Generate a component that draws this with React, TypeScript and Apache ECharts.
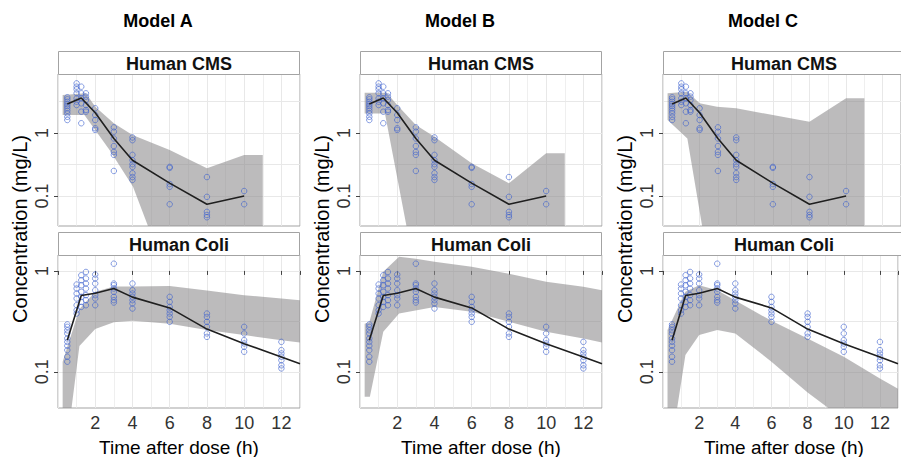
import React, { useEffect, useRef } from 'react';
import * as echarts from 'echarts';

// ---------- data ----------
const modelNames = ['Model A', 'Model B', 'Model C'];
const stripTitles = ['Human CMS', 'Human Coli'];
const xTicks = [2, 4, 6, 8, 10, 12];
const yMajorTicks = [0.1, 1];
const yGridValues = [0.0316, 0.1, 0.316, 1, 3.16];

// observed CMS concentrations (shared by all models)
const cmsTimes = [0.5, 1, 1.25, 1.5, 2, 3, 4, 6, 8, 10];
const cmsObs = [
  [3.69, 3.43, 3.14, 2.88, 2.68, 2.47, 2.26, 2.05, 1.81, 1.61],
  [6.14, 5.44, 4.94, 4.27, 3.55, 3.14, 2.78],
  [5.44, 4.27, 3.55, 2.96, 2.18, 1.43],
  [4.27, 3.78, 3.34, 2.78, 2.32, 2.18],
  [2.47, 1.93, 1.61, 1.19, 1.12],
  [1.23, 1.05, 0.82, 0.62, 0.5, 0.45, 0.25],
  [0.85, 0.77, 0.45, 0.37, 0.32, 0.29, 0.23, 0.2, 0.18],
  [0.29, 0.28, 0.155, 0.14, 0.074],
  [0.2, 0.097, 0.056, 0.05, 0.046],
  [0.12, 0.074],
];
const cmsMedianT = [0.5, 1.25, 2, 3, 4, 6, 8, 10];
const cmsMedianV = [2.9, 3.6, 2.1, 0.82, 0.37, 0.16, 0.074, 0.1];

// observed colistin concentrations
const coliTimes = [0.5, 1, 1.25, 1.5, 2, 3, 4, 6, 8, 10, 12];
const coliObs = [
  [0.295, 0.279, 0.258, 0.24, 0.214, 0.198, 0.181, 0.164, 0.141, 0.126],
  [0.733, 0.669, 0.597, 0.533, 0.457, 0.408, 0.378],
  [0.906, 0.809, 0.722, 0.62, 0.553, 0.493, 0.44],
  [0.977, 0.841, 0.75, 0.669, 0.575, 0.513, 0.457],
  [0.921, 0.841, 0.75, 0.644, 0.575, 0.533, 0.457],
  [1.18, 0.75, 0.722, 0.669, 0.62, 0.553, 0.513, 0.486],
  [0.75, 0.644, 0.597, 0.553, 0.513, 0.476, 0.424],
  [0.553, 0.493, 0.44, 0.408, 0.378, 0.35, 0.313],
  [0.378, 0.35, 0.313, 0.279, 0.24, 0.222],
  [0.279, 0.24, 0.206, 0.191, 0.177, 0.158],
  [0.198, 0.164, 0.152, 0.141, 0.13, 0.116, 0.108],
];
const coliMedianT = [0.5, 1.25, 2, 3, 4, 6, 8, 10, 12, 13];
const coliMedianV = [0.205, 0.57, 0.6, 0.67, 0.55, 0.43, 0.265, 0.19, 0.14, 0.12];

// prediction intervals, CMS
const cmsUpperT_A = [0.25, 1.5, 2, 3, 4, 6, 8, 10, 11];
const cmsUpperV_A = [4.0, 4.27, 2.62, 1.43, 0.93, 0.54, 0.275, 0.447, 0.447];
const cmsLowerT_A = [0.25, 1.42, 2.77, 4.03, 4.84, 6, 11];
const cmsLowerV_A = [1.93, 1.93, 0.54, 0.14, 0.033, 0.005, 0.005];

const cmsUpperT_B = [0.25, 1.43, 2, 3, 4, 6, 8, 10, 11];
const cmsUpperV_B = [4.36, 4.36, 2.78, 1.34, 0.87, 0.33, 0.159, 0.476, 0.476];
const cmsLowerT_B = [0.25, 1.34, 2.5, 3, 11];
const cmsLowerV_B = [2.05, 2.05, 0.033, 0.005, 0.005];

const cmsUpperT_C = [0.25, 1.33, 2, 2.95, 4, 6, 8, 10, 11];
const cmsUpperV_C = [4.27, 4.53, 2.96, 2.62, 2.47, 1.93, 1.51, 3.55, 3.55];
const cmsLowerT_C = [0.25, 1.33, 2.14, 3, 11];
const cmsLowerV_C = [1.61, 0.82, 0.033, 0.003, 0.003];

// prediction intervals, colistin
const coliUpperT_A = [0.25, 1.15, 2, 3, 4, 6, 8, 10, 12, 13];
const coliUpperV_A = [0.126, 0.42, 0.62, 0.7, 0.7, 0.71, 0.64, 0.575, 0.533, 0.513];
const coliLowerT_A = [0.25, 0.7, 1.15, 2, 3, 4, 6, 8, 10, 12, 13];
const coliLowerV_A = [0.01, 0.04, 0.18, 0.265, 0.31, 0.32, 0.3, 0.259, 0.231, 0.206, 0.195];

const coliUpperT_B = [0.25, 0.5, 1.25, 2.1, 3, 4, 6, 8, 10, 12, 13];
const coliUpperV_B = [0.3, 0.31, 0.98, 1.38, 1.32, 1.23, 1.1, 0.94, 0.78, 0.695, 0.645];
const coliLowerT_B = [0.25, 0.53, 1.25, 2.1, 4, 6, 8, 10, 12, 13];
const coliLowerV_B = [0.0565, 0.0565, 0.249, 0.378, 0.44, 0.393, 0.313, 0.249, 0.214, 0.195];

const coliUpperT_C = [0.25, 1.24, 2, 3, 6, 8, 10, 12, 13];
const coliUpperV_C = [0.259, 0.62, 0.72, 0.644, 0.32, 0.214, 0.141, 0.086, 0.068];
const coliLowerT_C = [0.25, 0.75, 1.24, 2, 3, 4, 6, 8, 9.15, 13];
const coliLowerV_C = [0.01, 0.04, 0.147, 0.231, 0.259, 0.24, 0.126, 0.0625, 0.0437, 0.015];

// ---------- layout ----------
const FONT = '"Liberation Sans", Arial, Helvetica, sans-serif';
const colLeft = [58, 360, 663];
const panelW = 242;
const stripTop = [51, 232];
const stripH = 23;
const plotTop = [74, 255];
const plotBottom = [226, 408];
const yLogRange = [
  [-1.476, 0.937],
  [-1.359, 0.158],
];
const BORDER = '#a3a3a3';
const GRIDC = '#e8e8e8';
const BAND = 'rgba(140,138,140,0.58)';
const POINT = 'rgba(60,95,205,0.85)';

const lg = (v: number) => Math.log10(v);

function bandSeries(upT: number[], upV: number[], loT: number[], loV: number[], gi: number) {
  return {
    type: 'custom',
    xAxisIndex: gi,
    yAxisIndex: gi * 2,
    clip: true,
    silent: true,
    z: 2,
    data: [[upT[0], lg(upV[0])]],
    renderItem: (_p: any, api: any) => {
      const pts: number[][] = [];
      upT.forEach((t, i) => pts.push(api.coord([t, lg(upV[i])])));
      for (let i = loT.length - 1; i >= 0; i--) pts.push(api.coord([loT[i], lg(loV[i])]));
      return { type: 'polygon', shape: { points: pts }, style: { fill: BAND } };
    },
  };
}

function buildOption() {
  const grids: any[] = [];
  const xAxes: any[] = [];
  const yAxes: any[] = [];
  const series: any[] = [];
  const graphics: any[] = [];

  const bands = [
    [
      [cmsUpperT_A, cmsUpperV_A, cmsLowerT_A, cmsLowerV_A],
      [coliUpperT_A, coliUpperV_A, coliLowerT_A, coliLowerV_A],
    ],
    [
      [cmsUpperT_B, cmsUpperV_B, cmsLowerT_B, cmsLowerV_B],
      [coliUpperT_B, coliUpperV_B, coliLowerT_B, coliLowerV_B],
    ],
    [
      [cmsUpperT_C, cmsUpperV_C, cmsLowerT_C, cmsLowerV_C],
      [coliUpperT_C, coliUpperV_C, coliLowerT_C, coliLowerV_C],
    ],
  ];

  for (let c = 0; c < 3; c++) {
    const off = colLeft[c] - colLeft[0];
    graphics.push({
      type: 'text',
      x: 158 + off,
      y: 21,
      z: 10,
      style: {
        text: modelNames[c],
        font: `bold 18px ${FONT}`,
        fill: '#000',
        textAlign: 'center',
        textVerticalAlign: 'middle',
        align: 'center',
        verticalAlign: 'middle',
      },
    });
    graphics.push({
      type: 'text',
      x: 20 + off,
      y: 229,
      rotation: Math.PI / 2,
      z: 10,
      style: {
        text: 'Concentration (mg/L)',
        font: `20px ${FONT}`,
        fill: '#000',
        textAlign: 'center',
        textVerticalAlign: 'middle',
        align: 'center',
        verticalAlign: 'middle',
      },
    });
    graphics.push({
      type: 'text',
      x: colLeft[c] + panelW / 2,
      y: 447,
      z: 10,
      style: {
        text: 'Time after dose (h)',
        font: `19px ${FONT}`,
        fill: '#000',
        textAlign: 'center',
        textVerticalAlign: 'middle',
        align: 'center',
        verticalAlign: 'middle',
      },
    });

    for (let r = 0; r < 2; r++) {
      const gi = grids.length;
      grids.push({
        left: colLeft[c],
        top: plotTop[r],
        width: panelW,
        height: plotBottom[r] - plotTop[r],
        show: true,
        backgroundColor: '#fff',
        borderColor: BORDER,
        borderWidth: 1,
      });
      graphics.push({
        type: 'rect',
        z: 10,
        shape: { x: colLeft[c] + 0.5, y: stripTop[r] + 0.5, width: panelW - 1, height: stripH },
        style: { fill: '#fff', stroke: BORDER, lineWidth: 1 },
      });
      graphics.push({
        type: 'text',
        z: 11,
        x: colLeft[c] + panelW / 2,
        y: stripTop[r] + stripH / 2 + 1,
        style: {
          text: stripTitles[r],
          font: `bold 18px ${FONT}`,
          fill: '#111',
          textAlign: 'center',
          textVerticalAlign: 'middle',
          align: 'center',
          verticalAlign: 'middle',
        },
      });

      xAxes.push({
        type: 'value',
        gridIndex: gi,
        min: 0,
        max: 13,
        interval: 2,
        axisLine: { show: false },
        axisTick: { show: r === 1, length: 4, lineStyle: { color: '#444', width: 1 } },
        axisLabel: {
          show: r === 1,
          margin: 6,
          fontSize: 18,
          fontFamily: FONT,
          color: '#333',
          formatter: (v: number) => (xTicks.indexOf(v) >= 0 ? String(v) : ''),
        },
        splitLine: { show: true, lineStyle: { color: GRIDC, width: 1 } },
        minorTick: { show: false, splitNumber: 2 },
        minorSplitLine: { show: true, lineStyle: { color: GRIDC, width: 0.7 } },
      });
      // axis carrying grid lines
      yAxes.push({
        type: 'value',
        gridIndex: gi,
        min: yLogRange[r][0],
        max: yLogRange[r][1],
        axisLine: { show: false },
        axisTick: { show: false, customValues: yGridValues.map(lg) },
        axisLabel: { show: false },
        splitLine: { show: true, lineStyle: { color: GRIDC, width: 1 } },
      });
      // axis carrying labels / ticks
      yAxes.push({
        type: 'value',
        gridIndex: gi,
        position: 'left',
        min: yLogRange[r][0],
        max: yLogRange[r][1],
        axisLine: { show: false },
        axisTick: { show: true, length: 4, customValues: yMajorTicks.map(lg), lineStyle: { color: '#444' } },
        axisLabel: {
          show: true,
          rotate: 90,
          margin: 7,
          fontSize: 18,
          fontFamily: FONT,
          color: '#333',
          customValues: yMajorTicks.map(lg),
          formatter: (v: number) => String(Math.round(Math.pow(10, v) * 1000) / 1000),
        },
        splitLine: { show: false },
      });

      const [uT, uV, lT, lV] = bands[c][r];
      series.push(bandSeries(uT, uV, lT, lV, gi));

      const times = r === 0 ? cmsTimes : coliTimes;
      const obs = r === 0 ? cmsObs : coliObs;
      const pts: number[][] = [];
      times.forEach((t, i) => obs[i].forEach((v) => pts.push([t, lg(v)])));
      series.push({
        type: 'scatter',
        xAxisIndex: gi,
        yAxisIndex: gi * 2,
        z: 3,
        silent: true,
        symbol: 'circle',
        symbolSize: 5.5,
        itemStyle: { color: 'rgba(0,0,0,0)', borderColor: POINT, borderWidth: 0.9 },
        data: pts,
      });

      const mT = r === 0 ? cmsMedianT : coliMedianT;
      const mV = r === 0 ? cmsMedianV : coliMedianV;
      series.push({
        type: 'line',
        xAxisIndex: gi,
        yAxisIndex: gi * 2,
        z: 4,
        silent: true,
        showSymbol: false,
        symbol: 'none',
        clip: true,
        lineStyle: { color: '#1f1f1f', width: 1.6 },
        data: mT.map((t, i) => [t, lg(mV[i])]),
      });
    }
  }

  return {
    animation: false,
    backgroundColor: '#fff',
    textStyle: { fontFamily: FONT },
    grid: grids,
    xAxis: xAxes,
    yAxis: yAxes,
    series,
    graphic: { elements: graphics },
  };
}

export default function App() {
  const ref = useRef<HTMLDivElement>(null);
  useEffect(() => {
    document.body.style.margin = '0';
    if (!ref.current) return;
    const chart = echarts.init(ref.current, undefined, { renderer: 'svg' });
    chart.setOption(buildOption() as any);
    return () => chart.dispose();
  }, []);
  return <div ref={ref} style={{ width: 901, height: 457 }} />;
}
